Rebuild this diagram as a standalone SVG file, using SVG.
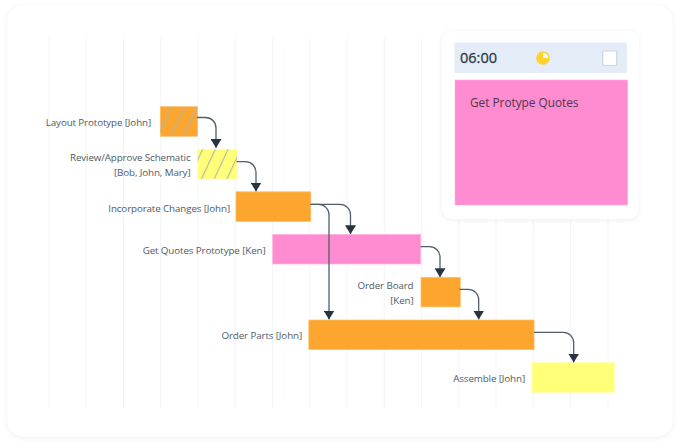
<svg xmlns="http://www.w3.org/2000/svg" width="680" height="445" viewBox="0 0 680 445">
<style>
text{font-family:"Open Sans","Noto Sans","Liberation Sans",sans-serif;font-size:9.8px;letter-spacing:-.12px;fill:#4f5a64}
.e{text-anchor:end}
.g line{stroke:#f1f5fc;stroke-width:1}
.c path{fill:none;stroke:#515f6a;stroke-width:1.3}
.bar{stroke-width:.7}
.o{fill:#fca62f;stroke:#fdbf6a}
.y{fill:#ffff78;stroke:#ffffa8}
.p{fill:#ff8bd0;stroke:#ffb0e0}
</style>
<defs>
<marker id="a" markerUnits="userSpaceOnUse" markerWidth="9" markerHeight="11" refX="8.800" refY="5.500" orient="auto" viewBox="0 0 9 11"><path d="M0 0L9 5.500L0 11Z" fill="#27343f"/></marker>
<pattern id="h" patternUnits="userSpaceOnUse" width="12.700" height="30" patternTransform="translate(157.200 136.500) skewX(-25)"><rect x="0" y="0" width="1.200" height="30" fill="#b4b4a8"/></pattern>
<filter id="s" x="-10%" y="-10%" width="120%" height="120%"><feDropShadow dx="0" dy="1" stdDeviation="2.500" flood-color="#8090a0" flood-opacity=".16"/></filter>
</defs>
<rect width="680" height="445" fill="#fff"/>
<rect id="frame" x="7.500" y="5.500" width="665" height="431" rx="15" fill="#fff" filter="url(#s)"/>
<g class="g" id="grid">
<line x1="49" y1="38" x2="49" y2="408"/><line x1="86.300" y1="38" x2="86.300" y2="408"/><line x1="123.500" y1="38" x2="123.500" y2="408"/><line x1="160.700" y1="38" x2="160.700" y2="408"/><line x1="198" y1="38" x2="198" y2="408"/><line x1="235.300" y1="38" x2="235.300" y2="408"/><line x1="272.500" y1="38" x2="272.500" y2="408"/><line x1="309.800" y1="38" x2="309.800" y2="408"/><line x1="347" y1="38" x2="347" y2="408"/><line x1="384.300" y1="38" x2="384.300" y2="408"/><line x1="421.500" y1="38" x2="421.500" y2="408"/><line x1="458.800" y1="38" x2="458.800" y2="408"/><line x1="496" y1="38" x2="496" y2="408"/><line x1="533.300" y1="38" x2="533.300" y2="408"/><line x1="570.600" y1="38" x2="570.600" y2="408"/><line x1="608" y1="38" x2="608" y2="408"/>
</g>
<g id="task-layout"><rect class="bar o" x="160.300" y="106.700" width="37.200" height="29.600"/><rect x="160.300" y="106.700" width="37.200" height="29.600" fill="url(#h)"/><text class="e" x="151" y="125.500">Layout Prototype [John]</text></g>
<g id="task-review"><rect class="bar y" x="197.700" y="149.300" width="39.300" height="29.600"/><rect x="197.700" y="149.300" width="39.300" height="29.600" fill="url(#h)"/><text class="e" x="190.500" y="161">Review/Approve Schematic</text><text class="e" x="190.500" y="176">[Bob, John, Mary]</text></g>
<g id="task-incorporate"><rect class="bar o" x="236" y="191.800" width="74.800" height="29.600"/><text class="e" x="230" y="211.500">Incorporate Changes [John]</text></g>
<g id="task-quotes"><rect class="bar p" x="272.700" y="234.400" width="148" height="29.600"/><text class="e" x="265.500" y="253.500">Get Quotes Prototype [Ken]</text></g>
<g id="task-board"><rect class="bar o" x="421" y="277.300" width="39.300" height="29.600"/><text class="e" x="413.500" y="289">Order Board</text><text class="e" x="413.500" y="304">[Ken]</text></g>
<g id="task-parts"><rect class="bar o" x="308.800" y="320" width="225.300" height="29.600"/><text class="e" x="302" y="339">Order Parts [John]</text></g>
<g id="task-assemble"><rect class="bar y" x="532" y="362.700" width="82.300" height="29.600"/><text class="e" x="525" y="381.500">Assemble [John]</text></g>
<g class="c" id="connectors">
<path d="M197 117.500H205.500A10.500 10.500 0 0 1 216 128V147.800" marker-end="url(#a)"/>
<path d="M236.500 161.700H245.500A10.500 10.500 0 0 1 256 172.200V191.300" marker-end="url(#a)"/>
<path d="M310.500 204.300H340A10.500 10.500 0 0 1 350.500 214.800V234" marker-end="url(#a)"/>
<path d="M310.500 204.300H318.500A10.500 10.500 0 0 1 329 214.800V319.300" marker-end="url(#a)"/>
<path d="M420.500 246.700H429.500A10.500 10.500 0 0 1 440 257.200V277" marker-end="url(#a)"/>
<path d="M459.500 289.300H468.200A10.500 10.500 0 0 1 478.700 299.800V319.300" marker-end="url(#a)"/>
<path d="M534 332.300H563.200A10.500 10.500 0 0 1 573.700 342.800V362.300" marker-end="url(#a)"/>
</g>
<g id="panel">
<rect x="442" y="31" width="197" height="188" rx="11" fill="#fff" filter="url(#s)"/>
<rect x="454.300" y="42.500" width="172.700" height="30.500" fill="#e4ecf8"/>
<text x="460" y="63" style="font-size:14.500px;letter-spacing:0;fill:#2c3a45;stroke:#2c3a45;stroke-width:.3">06:00</text>
<circle cx="543" cy="58" r="6.800" fill="#ffd22e"/>
<path d="M543 58V52.700A5.300 5.300 0 0 1 548.300 58Z" fill="#fff"/>
<rect x="602.700" y="51" width="14" height="14.500" rx="1.500" fill="#fff" stroke="#cfd4da" stroke-width="1.200"/>
<rect x="455" y="80" width="172.500" height="125" fill="#ff8bd0" stroke="#ffb0e0" stroke-width=".6"/>
<text x="470" y="106.500" style="font-size:11.800px;letter-spacing:0;fill:#4b3a4d">Get Protype Quotes</text>
</g>
</svg>
